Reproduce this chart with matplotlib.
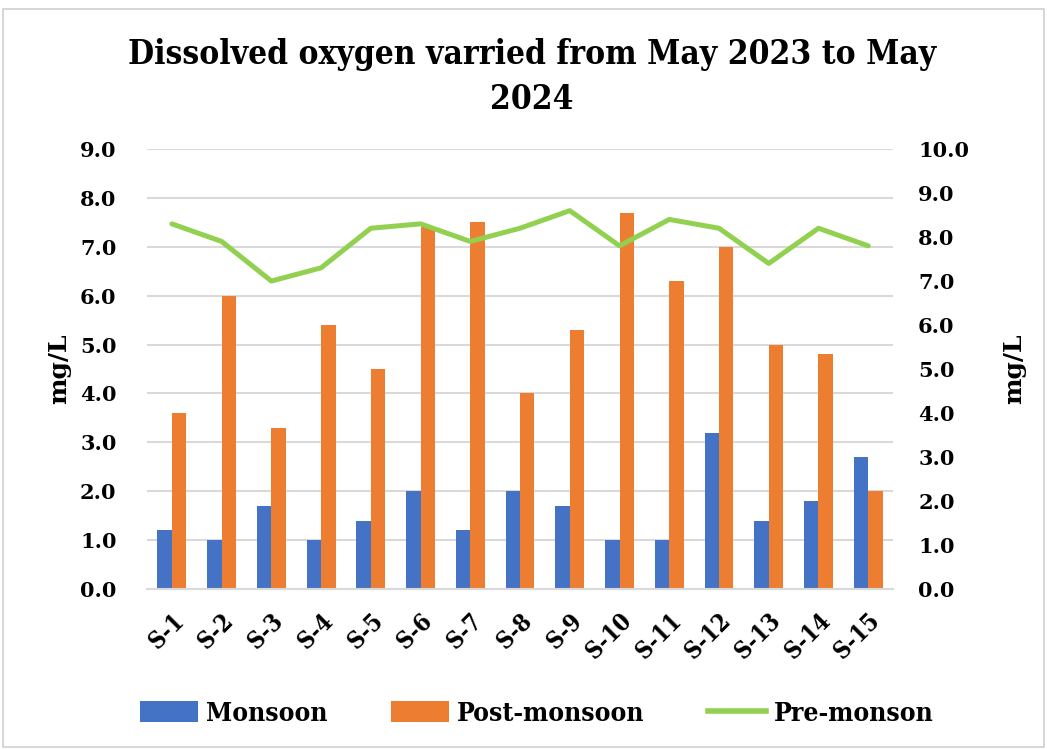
import matplotlib
matplotlib.use("Agg")
import matplotlib.pyplot as plt
from matplotlib.patches import Rectangle, Patch
from matplotlib.lines import Line2D
import numpy as np

categories = ["S-1", "S-2", "S-3", "S-4", "S-5", "S-6", "S-7", "S-8", "S-9", "S-10",
              "S-11", "S-12", "S-13", "S-14", "S-15"]
monsoon = [1.2, 1.0, 1.7, 1.0, 1.4, 2.0, 1.2, 2.0, 1.7, 1.0, 1.0, 3.2, 1.4, 1.8, 2.7]
post_monsoon = [3.6, 6.0, 3.3, 5.4, 4.5, 7.4, 7.5, 4.0, 5.3, 7.7, 6.3, 7.0, 5.0, 4.8, 2.0]
pre_monsoon = [8.3, 7.9, 7.0, 7.3, 8.2, 8.3, 7.9, 8.2, 8.6, 7.8, 8.4, 8.2, 7.4, 8.2, 7.8]
left_ticks = [0, 1, 2, 3, 4, 5, 6, 7, 8, 9]
right_ticks = [0, 1, 2, 3, 4, 5, 6, 7, 8, 9, 10]
title = "Dissolved oxygen varried from May 2023 to May\n2024"

BLUE = "#4472C4"
ORANGE = "#ED7D31"
GREEN = "#92D050"
GRID = "#D9D9D9"

serif = ["DejaVu Serif"]
cond = dict(family=serif, fontweight="bold", fontstretch="condensed")

fig = plt.figure(figsize=(10.47, 7.49), dpi=100)
fig.patches.append(Rectangle((0.003, 0.003), 0.994, 0.985, transform=fig.transFigure,
                             fill=False, edgecolor="#D0D0D0", linewidth=1.2))

ax = fig.add_axes([0.1404, 0.2136, 0.7126, 0.5874])
x = np.arange(len(categories))
w = 0.29
ax.bar(x - w / 2, monsoon, width=w, color=BLUE, zorder=2)
ax.bar(x + w / 2, post_monsoon, width=w, color=ORANGE, zorder=2)
ax.set_xlim(-0.5, len(categories) - 0.5)
ax.set_ylim(0, 9)
ax.set_yticks(left_ticks)
ax.set_yticklabels([f"{v:.1f}" for v in left_ticks], fontsize=15, fontweight="bold", family=serif)
ax.yaxis.grid(True, color=GRID, linewidth=1.5, zorder=0)
ax.set_axisbelow(True)
for s in ["top", "right", "left"]:
    ax.spines[s].set_visible(False)
ax.spines["bottom"].set_color(GRID)
ax.spines["bottom"].set_linewidth(1.5)
ax.tick_params(axis="both", length=0)
ax.tick_params(axis="y", pad=22)
ax.set_xticks(x)
ax.set_xticklabels(categories, rotation=45, ha="right", rotation_mode="anchor",
                   fontsize=17, **cond)
ax.tick_params(axis="x", pad=14)
ax.set_ylabel("mg/L", fontsize=18, fontweight="bold", family=serif, labelpad=6)

ax2 = ax.twinx()
ax2.plot(x, pre_monsoon, color=GREEN, linewidth=3.6, solid_capstyle="round", zorder=3)
ax2.set_ylim(0, 10)
ax2.set_yticks(right_ticks)
ax2.set_yticklabels([f"{v:.1f}" for v in right_ticks], fontsize=15, fontweight="bold", family=serif)
for s in ["top", "right", "left", "bottom"]:
    ax2.spines[s].set_visible(False)
ax2.tick_params(axis="y", length=0, pad=18)
ax2.set_ylabel("mg/L", fontsize=18, fontweight="bold", family=serif, labelpad=24)

fig.text(0.508, 1 - 77 / 749, title, ha="center", va="center", fontsize=24,
         linespacing=1.45, **cond)

handles = [Patch(facecolor=BLUE), Patch(facecolor=ORANGE), Line2D([0], [0], color=GREEN, linewidth=4)]
labels = ["Monsoon", "Post-monsoon", "Pre-monson"]
fig.legend(handles, labels, loc="center", bbox_to_anchor=(0.513, 0.048), ncol=3, frameon=False,
           prop=dict(family=serif, weight="bold", stretch="condensed", size=19),
           handlelength=2.2, handleheight=0.9, columnspacing=2.4, handletextpad=0.3)

fig.savefig("out.png", dpi=100)
